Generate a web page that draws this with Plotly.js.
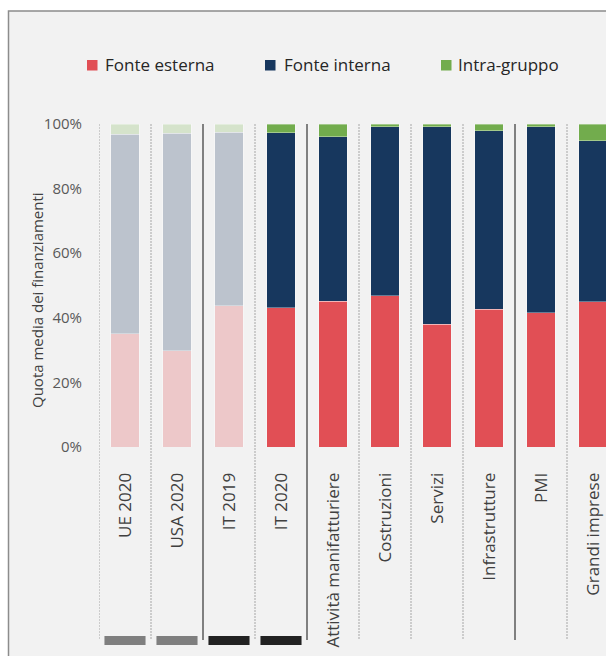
<!DOCTYPE html>
<html><head><meta charset="utf-8">
<script src="https://cdn.plot.ly/plotly-3.0.1.min.js"></script>
<style>html,body{margin:0;padding:0;background:#fff}</style>
</head><body><div id="chart" style="width:606px;height:656px"></div>
<script>
const categories = ['UE 2020','USA 2020','IT 2019','IT 2020','Attività manifatturiere','Costruzioni','Servizi','Infrastrutture','PMI','Grandi imprese'];
const fonteEsterna = [35.0, 29.8, 43.7, 43.1, 45.2, 46.9, 38.0, 42.6, 41.6, 44.9];
const fonteInterna = [61.8, 67.3, 53.8, 54.2, 50.9, 52.3, 61.2, 55.3, 57.6, 49.9];
const intraGruppo  = [3.2, 2.9, 2.5, 2.7, 3.9, 0.8, 0.8, 2.1, 0.8, 5.2];
const faded = [true, true, true, false, false, false, false, false, false, false];
const yTickVals = [0, 20, 40, 60, 80, 100];
const yTickText = ['0%', '20%', '40%', '60%', '80%', '100%'];
const leftSeparator = ['dot','dot','solid','dot','solid','dot','dot','dot','solid','dot'];
const groupStrip = ['#7f7f7f','#7f7f7f','#222222','#222222',null,null,null,null,null,null];

const seriesNames = ['Fonte esterna','Fonte interna','Intra-gruppo'];
const fullColors = ['#E14F55','#17375E','#72AC4D'];
const fadeColors = ['#EDC8C9','#BCC3CD','#D5E3CB'];
const seriesValues = [fonteEsterna, fonteInterna, intraGruppo];

const traces = seriesValues.map((vals, s) => ({
  type: 'bar',
  name: seriesNames[s],
  x: categories,
  y: vals,
  showlegend: false,
  marker: {
    color: faded.map(f => f ? fadeColors[s] : fullColors[s]),
    line: {width: 1, color: 'rgba(255,255,255,0.35)'}
  },
  hoverinfo: 'x+y+name'
}));

// plot area geometry: left 99, right 606, top 124, bottom 447
const L = 99, R = 606, T = 124, B = 447, W = 606, H = 656;
const px = v => (v - L) / (R - L);
const py = v => (B - v) / (B - T);

const shapes = [];
// outer frame
shapes.push({type:'rect', xref:'paper', yref:'paper', x0:px(8.5), x1:px(700), y0:py(800), y1:py(11),
  fillcolor:'#F2F2F2', line:{color:'#8C8C8C', width:1.5}, layer:'below'});
categories.forEach((c, i) => {
  const solid = leftSeparator[i] === 'solid';
  shapes.push({type:'line', xref:'x', yref:'paper', x0:i-0.5, x1:i-0.5, y0:py(124), y1:py(640),
    line: solid ? {color:'#808080', width:2} : {color:'#A6A6A6', width:1, dash:'2px,1px'}, layer:'below'});
  if (groupStrip[i]) {
    shapes.push({type:'rect', xref:'x', yref:'paper', x0:i-0.395, x1:i+0.395, y0:py(645), y1:py(636),
      fillcolor:groupStrip[i], line:{width:0}});
  }
});

// manual legend (full colours)
const legendSquareX = [87, 265, 441];
const legendTextX = [103, 281.5, 456];
const annotations = [{
  text: 'Quota media dei finanziamenti', xref: 'paper', yref: 'paper',
  x: px(37), y: py(300), xanchor: 'center', yanchor: 'middle',
  textangle: -90, showarrow: false, font: {size: 15, color: '#404040'}
}];
seriesNames.forEach((n, s) => {
  shapes.push({type:'rect', xref:'paper', yref:'paper',
    x0: px(legendSquareX[s]), x1: px(legendSquareX[s] + 10.5), y0: py(70.5), y1: py(60),
    fillcolor: fullColors[s], line: {width: 0}});
  annotations.push({text: n, xref:'paper', yref:'paper', x: px(legendTextX[s]), y: py(65),
    xanchor:'left', yanchor:'middle', showarrow:false, font:{size:17, color:'#262626'}});
});

const layout = {
  width: W, height: H,
  margin: {l: L, r: W - R, t: T, b: H - B, pad: 0},
  paper_bgcolor: '#FFFFFF',
  plot_bgcolor: 'rgba(0,0,0,0)',
  font: {family: '"Open Sans", "Noto Sans", sans-serif', color: '#404040'},
  barmode: 'stack',
  bargap: 0.46,
  showlegend: false,
  xaxis: {
    type: 'category', range: [-0.5, 9.25], fixedrange: true,
    tickangle: -90, ticks: 'outside', ticklen: 18, tickcolor: 'rgba(0,0,0,0)',
    showgrid: false, showline: false, zeroline: false,
    tickfont: {size: 17, color: '#404040'}, automargin: false
  },
  yaxis: {
    range: [0, 100], fixedrange: true,
    tickmode: 'array', tickvals: yTickVals, ticktext: yTickText,
    ticks: 'outside', ticklen: 13, tickcolor: 'rgba(0,0,0,0)',
    showgrid: false, showline: false, zeroline: false,
    tickfont: {size: 15, color: '#595959'}, automargin: false
  },
  shapes: shapes,
  annotations: annotations
};

Plotly.newPlot('chart', traces, layout, {displayModeBar: false, staticPlot: true});
</script>
</body></html>
